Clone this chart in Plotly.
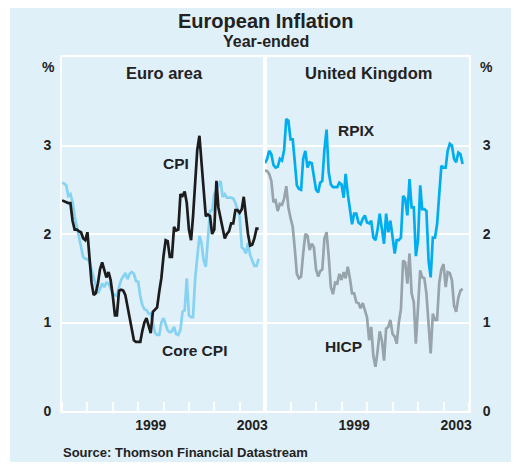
import pandas as pd
import plotly.graph_objects as go

# ---------------- data (monthly, year-ended % change, from Jan 1996) ----------------
months = pd.date_range("1996-01-01", periods=94, freq="MS")

euro_cpi = [2.38, 2.37, 2.36, 2.35, 2.35, 2.15, 2.05, 2.05, 2.03, 2.02, 1.95, 1.93,
            2.02, 1.70, 1.45, 1.31, 1.33, 1.44, 1.60, 1.68, 1.60, 1.51, 1.57, 1.48,
            1.30, 1.08, 1.08, 1.36, 1.37, 1.36, 1.31, 1.18, 1.05, 0.95, 0.80, 0.78,
            0.78, 0.78, 0.90, 1.00, 1.05, 0.95, 0.88, 1.12, 1.15, 1.17, 1.35, 1.50,
            1.75, 1.93, 1.92, 1.74, 1.74, 2.08, 2.04, 2.05, 2.45, 2.43, 2.48, 2.35,
            2.05, 1.93, 2.20, 2.55, 2.95, 3.11, 2.75, 2.50, 2.20, 2.22, 2.20, 2.00,
            2.05, 2.60, 2.30, 2.17, 2.05, 1.95, 2.00, 2.03, 2.12, 2.12, 2.27, 2.27,
            2.24, 2.28, 2.42, 2.20, 2.00, 1.87, 1.88, 1.95, 2.06, 2.06]

euro_core = [2.58, 2.57, 2.55, 2.43, 2.45, 2.36, 2.20, 2.08, 1.95, 1.83, 1.74, 1.72,
             1.72, 1.68, 1.59, 1.50, 1.42, 1.33, 1.38, 1.44, 1.40, 1.45, 1.44, 1.38,
             1.33, 1.31, 1.30, 1.40, 1.48, 1.52, 1.56, 1.49, 1.55, 1.57, 1.55, 1.47,
             1.46, 1.30, 1.20, 1.15, 1.14, 1.10, 1.10, 1.00, 0.88, 0.86, 0.86, 1.00,
             1.05, 0.98, 0.91, 0.89, 0.90, 0.95, 0.87, 0.86, 0.92, 1.12, 1.14, 1.50,
             1.08, 1.06, 1.06, 1.50, 1.78, 1.98, 1.90, 1.70, 1.63, 1.93, 2.26, 2.27,
             2.45, 2.50, 2.55, 2.60, 2.42, 2.45, 2.41, 2.41, 2.41, 2.40, 2.35, 2.28,
             2.20, 1.85, 1.83, 1.78, 1.90, 1.76, 1.70, 1.64, 1.64, 1.72]

uk_rpix = [2.80, 2.85, 2.94, 2.90, 2.78, 2.75, 2.76, 2.85, 2.83, 2.95, 3.30, 3.28,
           3.07, 3.07, 2.83, 2.55, 2.51, 2.50, 2.85, 2.94, 2.75, 2.81, 2.80, 2.64,
           2.50, 2.47, 2.58, 2.60, 2.95, 3.18, 2.70, 2.56, 2.53, 2.53, 2.53, 2.58,
           2.56, 2.41, 2.68, 2.45, 2.30, 2.11, 2.23, 2.23, 2.13, 2.11, 2.17, 2.21,
           2.13, 2.12, 2.15, 1.96, 1.93, 2.05, 2.23, 2.05, 1.89, 2.23, 2.02, 2.15,
           1.95, 1.78, 1.93, 1.93, 1.96, 2.43, 2.40, 2.21, 2.62, 2.30, 2.30, 1.75,
           1.93, 2.55, 2.28, 2.28, 2.26, 1.70, 1.51, 1.96, 1.96, 2.11, 2.45, 2.77,
           2.75, 2.75, 2.94, 3.02, 3.00, 2.85, 2.81, 2.92, 2.90, 2.79]

uk_hicp = [2.72, 2.71, 2.68, 2.60, 2.36, 2.38, 2.26, 2.34, 2.33, 2.40, 2.54, 2.30,
           2.18, 2.08, 1.85, 1.55, 1.50, 1.52, 1.78, 2.00, 1.98, 1.82, 1.89, 1.85,
           1.60, 1.52, 1.58, 1.60, 1.95, 2.02, 1.75, 1.40, 1.32, 1.45, 1.44, 1.55,
           1.48, 1.57, 1.50, 1.63, 1.50, 1.33, 1.33, 1.23, 1.22, 1.16, 1.22, 1.14,
           1.06, 0.80, 0.95, 0.62, 0.50, 0.68, 0.90, 0.80, 0.57, 0.93, 0.95, 1.03,
           0.87, 0.84, 0.76, 1.00, 1.15, 1.70, 1.68, 1.44, 1.78, 1.33, 1.23, 0.76,
           1.21, 1.59, 1.51, 1.50, 1.33, 1.00, 0.65, 1.10, 1.03, 1.03, 1.45, 1.60,
           1.66, 1.40, 1.57, 1.56, 1.48, 1.19, 1.12, 1.28, 1.36, 1.38]

y_ticks = [0, 1, 2, 3]
x_label_dates = ["1999-07-01", "2003-07-01"]
x_label_text = ["1999", "2003"]

# ---------------- styling ----------------
# page body has an 8px default margin, so the figure is drawn 8px in from the
# window's top-left corner; layout is specified in window pixels and shifted.
OFF = 8
W, H = 521 - OFF, 465 - OFF
L_PX, R_PX, T_PX, B_PX = 62, 469, 57, 411          # plot area in window pixels
ML, MT = L_PX - OFF, T_PX - OFF
MR, MB = W - (R_PX - OFF), H - (B_PX - OFF)
PW, PH = R_PX - L_PX, B_PX - T_PX
BG = "#e0f0f9"
FONT = "Liberation Sans, Arial, Helvetica, sans-serif"
TXT = "#222222"


def px_x(p):
    return (p - L_PX) / PW


def px_y(p):
    return (B_PX - p) / PH


fig = go.Figure()
fig.add_trace(go.Scatter(x=months, y=euro_core, mode="lines", name="Core CPI",
                         line=dict(color="#86d2f2", width=2.7), xaxis="x", yaxis="y"))
fig.add_trace(go.Scatter(x=months, y=euro_cpi, mode="lines", name="CPI",
                         line=dict(color="#1c1c1c", width=2.7), xaxis="x", yaxis="y"))
fig.add_trace(go.Scatter(x=months, y=uk_hicp, mode="lines", name="HICP",
                         line=dict(color="#98a4ab", width=2.7), xaxis="x2", yaxis="y2"))
fig.add_trace(go.Scatter(x=months, y=uk_rpix, mode="lines", name="RPIX",
                         line=dict(color="#00aeef", width=2.7), xaxis="x2", yaxis="y2"))

split = px_x(265)
xcommon = dict(
    type="date", range=["1996-01-01", "2004-01-01"],
    tickmode="array", tickvals=x_label_dates, ticktext=x_label_text, ticks="",
    tickfont=dict(family=FONT, size=14, color=TXT, weight="bold"),
    showgrid=False, zeroline=False, showline=True, linecolor="white", linewidth=2, mirror=True,
    minor=dict(ticks="inside", ticklen=9, tickwidth=2, tickcolor="white",
               dtick="M12", tick0="1996-01-01", showgrid=False),
    fixedrange=True,
)
ycommon = dict(
    range=[0, 4], tickmode="array", tickvals=y_ticks, ticks="",
    tickfont=dict(family=FONT, size=14, color=TXT, weight="bold"),
    showgrid=True, gridcolor="white", gridwidth=2, zeroline=False,
    showline=True, linecolor="white", linewidth=2, mirror=True, fixedrange=True,
)

fig.update_layout(
    width=W, height=H,
    margin=dict(l=ML, r=MR, t=MT, b=MB, pad=0),
    paper_bgcolor="white", plot_bgcolor=BG,
    showlegend=False,
    xaxis=dict(domain=[0, split], anchor="y", **xcommon),
    xaxis2=dict(domain=[split, 1], anchor="y2", **xcommon),
    yaxis=dict(domain=[0, 1], anchor="x", side="left", ticklabelstandoff=6, **ycommon),
    yaxis2=dict(domain=[0, 1], anchor="x2", side="right", ticklabelstandoff=9, **ycommon),
)

# outer light-blue panel
fig.add_shape(type="rect", xref="paper", yref="paper",
              x0=px_x(10), x1=px_x(511), y0=px_y(462), y1=px_y(2),
              fillcolor=BG, line=dict(width=0), layer="below")


def txt(text, x, y, size, xanchor="center"):
    fig.add_annotation(text=f"<b>{text}</b>", xref="paper", yref="paper",
                       x=px_x(x), y=px_y(y), xanchor=xanchor, yanchor="middle",
                       showarrow=False, borderpad=0,
                       font=dict(family=FONT, size=size, color=TXT))


txt("European Inflation", 266, 21, 20)
txt("Year-ended", 266, 42, 16)
txt("%", 48, 67, 14)
txt("%", 486, 67, 14)
txt("Euro area", 164, 73, 16.5)
txt("United Kingdom", 368, 73, 16.5)
txt("CPI", 176, 163, 15.5)
txt("Core CPI", 194, 350, 15.5)
txt("RPIX", 356, 131, 15.5)
txt("HICP", 343, 346, 15.5)
txt("Source: Thomson Financial Datastream", 62, 452, 13, xanchor="left")

fig.write_html("out.html")
